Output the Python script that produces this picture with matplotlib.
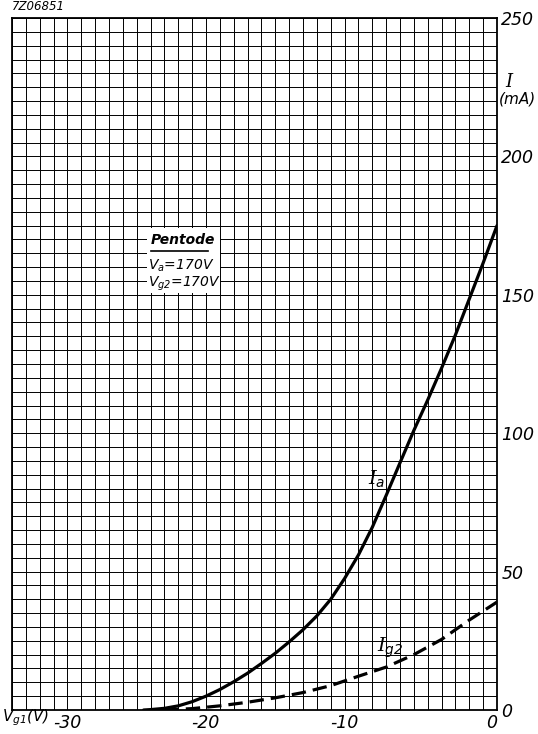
import matplotlib
matplotlib.use("Agg")
import matplotlib.pyplot as plt
from matplotlib.patches import Rectangle
from matplotlib.lines import Line2D

plt.rcParams['font.family'] = ['DejaVu Sans']
plt.rcParams['mathtext.fontset'] = 'custom'
plt.rcParams['mathtext.it'] = 'DejaVu Serif:italic'
plt.rcParams['mathtext.rm'] = 'DejaVu Sans:italic'
plt.rcParams['mathtext.sf'] = 'DejaVu Sans:italic'

# ---- data ----
vg1_a = [-25.5, -25, -24, -23, -22, -21, -20, -19, -18, -17, -16, -15, -14, -13,
         -12, -11, -10, -9, -8, -7, -6, -5, -4, -3, -2, -1, 0]
ia = [0, 0.15, 0.6, 1.5, 3.0, 5.0, 7.4, 10.2, 13.3, 16.8, 20.5, 24.6, 29.0, 34.0,
      40.0, 47.5, 56.0, 66.0, 77.5, 89.3, 101.0, 112.0, 123.5, 135.5, 148.5, 161.5, 175.0]

vg1_g2 = [-24, -22, -20, -18, -16, -14, -12, -10, -8, -6, -4, -2, 0]
ig2 = [0, 0.5, 1.5, 2.8, 4.4, 6.3, 8.8, 12.2, 15.5, 20.0, 25.5, 32.5, 39.0]

xticks = [-30, -20, -10, 0]
xticklabels = ['-30', '-20', '-10', '0']
yticks = [0, 50, 100, 150, 200, 250]
yticklabels = ['0', '50', '100', '150', '200', '250']

fig = plt.figure(figsize=(5.38, 7.34), dpi=100)
ax = fig.add_axes([12/538, 1-710/734, 485/538, 692/734])
ax.set_xlim(-35, 0)
ax.set_ylim(0, 250)

ax.set_xticks(range(-35, 1), minor=True)
ax.set_yticks(range(0, 251, 5), minor=True)
ax.set_xticks(xticks)
ax.set_xticklabels(xticklabels)
ax.set_yticks(yticks)
ax.set_yticklabels(yticklabels)
ax.yaxis.tick_right()
ax.tick_params(which='both', length=0)
ax.tick_params(axis='x', pad=3, labelsize=12.5)
ax.tick_params(axis='y', pad=3, labelsize=12.5)
for lab in ax.get_xticklabels():
    lab.set_horizontalalignment('right')
    lab.set_fontstyle('italic')
for lab in ax.get_yticklabels():
    lab.set_fontstyle('italic')
ax.grid(True, which='both', color='black', linewidth=0.7)
ax.set_axisbelow(True)
for s in ax.spines.values():
    s.set_linewidth(1.3)

ax.plot(vg1_a, ia, color='black', linewidth=2.3, solid_capstyle='round',
        solid_joinstyle='round', zorder=5)
ax.plot(vg1_g2, ig2, color='black', linewidth=2.3, linestyle=(0, (4.5, 2.2)), zorder=5)

ax.text(-8.7, 83.5, r'$I_{\mathsf{a}}$', fontsize=14, ha='center', va='center', zorder=6)
ax.text(-7.7, 22.5, r'$I_{\mathsf{g2}}$', fontsize=14, ha='center', va='center', zorder=6)

# info box
ax.add_patch(Rectangle((0.278, 0.603), 0.150, 0.094, transform=ax.transAxes,
                       facecolor='white', edgecolor='none', zorder=4))
ax.text(0.286, 0.679, 'Pentode', transform=ax.transAxes, fontsize=10,
        fontstyle='italic', fontweight='bold', ha='left', va='center', zorder=6)
ax.add_line(Line2D([0.286, 0.405], [0.664, 0.664], transform=ax.transAxes,
                   color='black', linewidth=1.2, zorder=6))
ax.text(0.281, 0.6416, r'$\mathsf{V_a}$=170V', transform=ax.transAxes, fontsize=10,
        fontstyle='italic', ha='left', va='center', zorder=6)
ax.text(0.281, 0.6156, r'$\mathsf{V_{g2}}$=170V', transform=ax.transAxes, fontsize=10,
        fontstyle='italic', ha='left', va='center', zorder=6)

# axis labels
fig.text(505/538, 1-82/734, r'$I$', fontsize=13, ha='left', va='center')
fig.text(499/538, 1-99/734, '(mA)', fontsize=11, fontstyle='italic', ha='left', va='center')
fig.text(2/538, 1-718/734, r'$\mathsf{V_{g1}}$(V)', fontsize=11, fontstyle='italic',
         ha='left', va='center')
fig.text(12/538, 1-7/734, '7Z06851', fontsize=8.5, fontstyle='italic', ha='left', va='center')

fig.savefig('out.png', dpi=100)
